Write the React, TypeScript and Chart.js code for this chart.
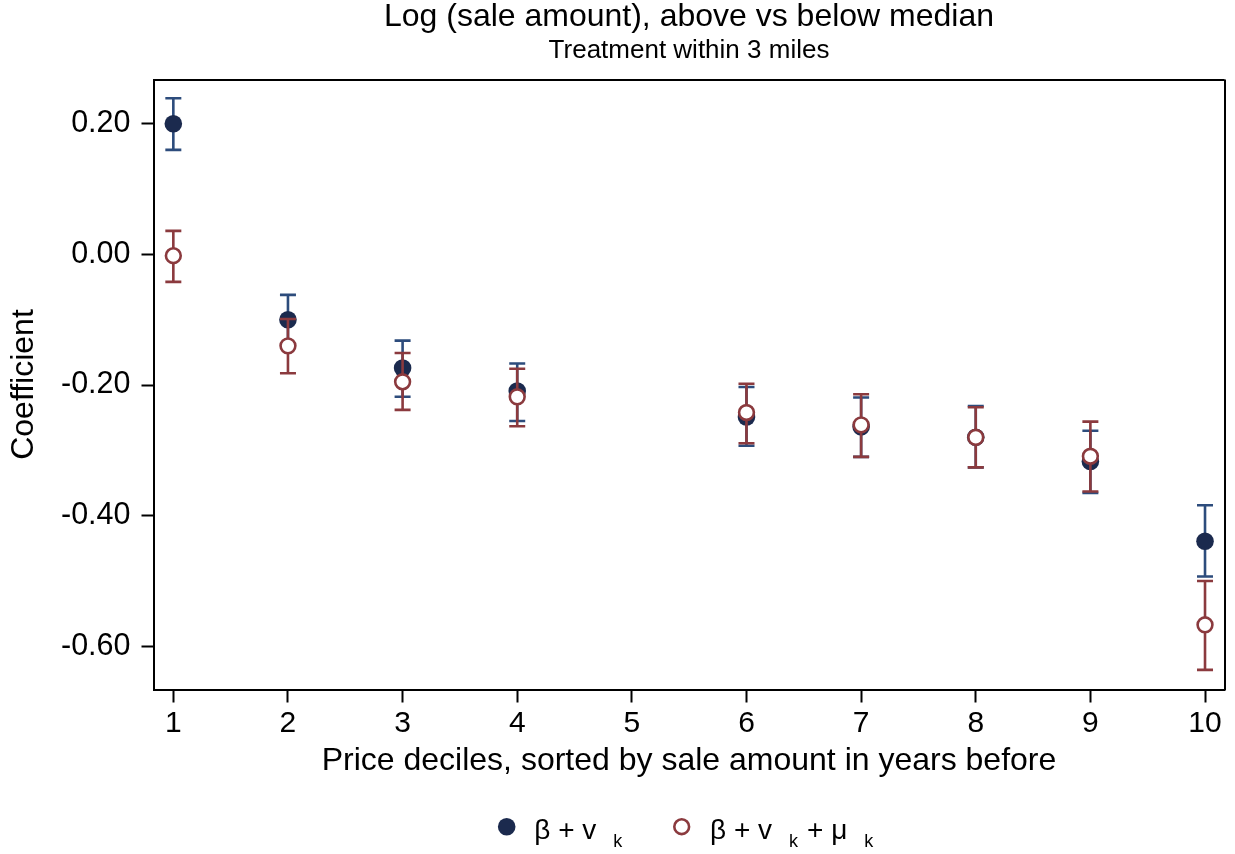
import React, { useEffect, useRef } from "react";
import { Chart, registerables } from "chart.js";

Chart.register(...registerables);

// ---- Data ----
const deciles = [1, 2, 3, 4, 6, 7, 8, 9, 10];

const betaNu = [0.200, -0.100, -0.174, -0.209, -0.249, -0.264, -0.280, -0.317, -0.439];
const betaNuLow = [0.160, -0.139, -0.218, -0.255, -0.293, -0.310, -0.326, -0.365, -0.493];
const betaNuHigh = [0.239, -0.062, -0.132, -0.167, -0.203, -0.219, -0.232, -0.270, -0.384];

const betaNuMu = [-0.002, -0.140, -0.195, -0.218, -0.242, -0.261, -0.280, -0.309, -0.567];
const betaNuMuLow = [-0.042, -0.182, -0.238, -0.263, -0.289, -0.310, -0.326, -0.363, -0.636];
const betaNuMuHigh = [0.036, -0.099, -0.151, -0.175, -0.198, -0.214, -0.234, -0.256, -0.500];

const xTickValues = [1, 2, 3, 4, 5, 6, 7, 8, 9, 10];
const yTickValues = [-0.6, -0.4, -0.2, 0, 0.2];

const titleText = "Log (sale amount), above vs below median";
const subtitleText = "Treatment within 3 miles";
const xTitle = "Price deciles, sorted by sale amount in years before";
const yTitle = "Coefficient";
// legend labels: alternating normal / subscript pieces
const legendLabels = [
  ["β + v", "k"],
  ["β + v", "k", "+ μ", "k"],
];

const FONT = "'Liberation Sans', Arial, Helvetica, sans-serif";
const NAVY_DOT = "#1b2a4e";
const NAVY_BAR = "#2d4c7c";
const MAROON = "#8b3a3e";

const errorBarPlugin = {
  id: "errorBars",
  beforeDatasetDraw(chart: any, args: any) {
    const ds = chart.data.datasets[args.index];
    if (!ds.errLow) return;
    const { ctx } = chart;
    const x = chart.scales.x;
    const y = chart.scales.y;
    ctx.save();
    ctx.strokeStyle = ds.errColor;
    ctx.lineWidth = 2.6;
    ctx.lineCap = "butt";
    ds.data.forEach((pt: any, i: number) => {
      const px = x.getPixelForValue(pt.x);
      const yl = y.getPixelForValue(ds.errLow[i]);
      const yh = y.getPixelForValue(ds.errHigh[i]);
      ctx.beginPath();
      ctx.moveTo(px, yl);
      ctx.lineTo(px, yh);
      ctx.moveTo(px - 8, yl);
      ctx.lineTo(px + 8, yl);
      ctx.moveTo(px - 8, yh);
      ctx.lineTo(px + 8, yh);
      ctx.stroke();
    });
    ctx.restore();
  },
};

const framePlugin = {
  id: "frame",
  afterDraw(chart: any) {
    const { ctx, chartArea } = chart;
    ctx.save();
    ctx.strokeStyle = "#000";
    ctx.lineWidth = 2;
    ctx.beginPath();
    ctx.moveTo(chartArea.left, Math.round(chartArea.top));
    ctx.lineTo(chartArea.right, Math.round(chartArea.top));
    ctx.moveTo(Math.round(chartArea.right), chartArea.top);
    ctx.lineTo(Math.round(chartArea.right), chartArea.bottom + 1);
    ctx.stroke();
    ctx.restore();
  },
};

const legendPlugin = {
  id: "customLegend",
  afterDraw(chart: any) {
    const { ctx } = chart;
    const cy = 826.7;
    const items = [
      { mx: 506.7, tx: 534.3, filled: true, color: NAVY_DOT, parts: legendLabels[0] },
      { mx: 681.7, tx: 710, filled: false, color: MAROON, parts: legendLabels[1] },
    ];
    ctx.save();
    items.forEach((it) => {
      ctx.beginPath();
      if (it.filled) {
        ctx.arc(it.mx, cy, 8.8, 0, Math.PI * 2);
        ctx.fillStyle = it.color;
        ctx.fill();
      } else {
        ctx.arc(it.mx, cy, 7.4, 0, Math.PI * 2);
        ctx.fillStyle = "#fff";
        ctx.fill();
        ctx.lineWidth = 2.6;
        ctx.strokeStyle = it.color;
        ctx.stroke();
      }
      let x = it.tx;
      ctx.fillStyle = "#000";
      ctx.textAlign = "left";
      ctx.textBaseline = "alphabetic";
      it.parts.forEach((p, i) => {
        const sub = i % 2 === 1;
        ctx.font = sub ? `18px ${FONT}` : `28px ${FONT}`;
        if (sub) {
          x += 17;
          ctx.fillText(p, x, 846.7);
          x += ctx.measureText(p).width + 9;
        } else {
          ctx.fillText(p, x, 839);
          x += ctx.measureText(p).width;
        }
      });
    });
    ctx.restore();
  },
};

export default function App() {
  const ref = useRef<HTMLCanvasElement | null>(null);

  useEffect(() => {
    if (!ref.current) return;
    const chart = new Chart(ref.current, {
      type: "scatter",
      data: {
        datasets: [
          {
            label: "β + v_k",
            data: deciles.map((d, i) => ({ x: d, y: betaNu[i] })),
            errLow: betaNuLow,
            errHigh: betaNuHigh,
            errColor: NAVY_BAR,
            pointRadius: 8.8,
            pointHoverRadius: 8.8,
            pointBackgroundColor: NAVY_DOT,
            pointBorderColor: NAVY_DOT,
            pointBorderWidth: 0,
            order: 1,
          } as any,
          {
            label: "β + v_k + μ_k",
            data: deciles.map((d, i) => ({ x: d, y: betaNuMu[i] })),
            errLow: betaNuMuLow,
            errHigh: betaNuMuHigh,
            errColor: MAROON,
            pointRadius: 7.4,
            pointHoverRadius: 7.4,
            pointBackgroundColor: "#ffffff",
            pointBorderColor: MAROON,
            pointBorderWidth: 2.6,
            order: 0,
          } as any,
        ],
      },
      options: {
        responsive: false,
        animation: false,
        devicePixelRatio: 1,
        layout: { padding: { left: 0, right: 10.5, top: 0, bottom: 74.1 } },
        plugins: {
          legend: { display: false },
          tooltip: { enabled: false },
          title: {
            display: true,
            text: titleText,
            fullSize: false,
            color: "#000",
            font: { family: FONT, size: 32, weight: "normal", lineHeight: 1.1 },
            padding: { top: 0, bottom: 0 },
          },
          subtitle: {
            display: true,
            text: subtitleText,
            fullSize: false,
            color: "#000",
            font: { family: FONT, size: 26, weight: "normal", lineHeight: 1.1 },
            padding: { top: 1.5, bottom: 14.2 },
          },
        },
        scales: {
          x: {
            type: "linear",
            position: "bottom",
            min: 0.827,
            max: 10.17,
            afterBuildTicks: (s: any) => {
              s.ticks = xTickValues.map((v) => ({ value: v }));
            },
            afterFit: (s: any) => {
              s.height = 90.4;
            },
            ticks: {
              color: "#000",
              font: { family: FONT, size: 30 },
              padding: 3.5,
              maxRotation: 0,
              callback: (v: any) => String(v),
            },
            grid: {
              display: true,
              drawOnChartArea: false,
              drawTicks: true,
              tickLength: 13,
              tickColor: "#000",
              tickWidth: 2,
            },
            border: { display: true, color: "#000", width: 2 },
            title: {
              display: true,
              text: xTitle,
              color: "#000",
              font: { family: FONT, size: 32, lineHeight: 1.2 },
              padding: { top: 0, bottom: 0 },
            },
          },
          y: {
            type: "linear",
            min: -0.666,
            max: 0.2677,
            afterBuildTicks: (s: any) => {
              s.ticks = yTickValues.map((v) => ({ value: v }));
            },
            afterFit: (s: any) => {
              s.width = 153.5;
            },
            ticks: {
              color: "#000",
              font: { family: FONT, size: 30.5 },
              padding: 11,
              callback: (v: any) => Number(v).toFixed(2),
            },
            grid: {
              display: true,
              drawOnChartArea: false,
              drawTicks: true,
              tickLength: 12,
              tickColor: "#000",
              tickWidth: 2,
            },
            border: { display: true, color: "#000", width: 2 },
            title: {
              display: true,
              text: yTitle,
              color: "#000",
              font: { family: FONT, size: 32, lineHeight: 1.2 },
              padding: { top: 4.8, bottom: 0 },
            },
          },
        },
      } as any,
      plugins: [errorBarPlugin, framePlugin, legendPlugin],
    });
    return () => chart.destroy();
  }, []);

  return (
    <div style={{ position: "fixed", left: 0, top: 0, width: 1235, height: 854, background: "#fff" }}>
      <canvas ref={ref} width={1235} height={854} style={{ display: "block", width: 1235, height: 854 }} />
    </div>
  );
}
